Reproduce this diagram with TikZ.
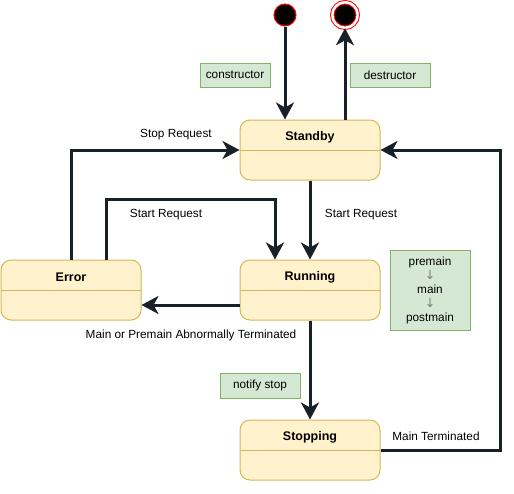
\documentclass[tikz,border=0pt]{standalone}
\usepackage{fontspec}
\setmainfont{Liberation Sans}
\newfontfamily\arrowfont{DejaVu Sans}
\usetikzlibrary{arrows.meta}
\definecolor{statehead}{HTML}{FFF2CC}
\definecolor{statebody}{HTML}{FFFFC0}
\definecolor{stateline}{HTML}{D6B656}
\definecolor{notefill}{HTML}{D5E8D4}
\definecolor{noteline}{HTML}{82B366}
\definecolor{wire}{HTML}{1A2027}
\begin{document}
\begin{tikzpicture}[x=1pt,y=-1pt,
  state/.style={draw=stateline, fill=statebody, line width=1pt, rounded corners=10pt,
    minimum width=140pt, minimum height=60pt, inner sep=0pt,
    path picture={\fill[statehead] (path picture bounding box.north west) rectangle ([yshift=-30pt]path picture bounding box.east);
      \draw[stateline, line width=1pt] (path picture bounding box.west) -- (path picture bounding box.east);}},
  title/.style={font=\fontsize{12.5pt}{14pt}\selectfont\bfseries, inner sep=0pt},
  note/.style={draw=noteline, fill=notefill, line width=1pt, font=\fontsize{11.8pt}{14pt}\selectfont, inner sep=0pt},
  lbl/.style={font=\fontsize{11.8pt}{14pt}\selectfont, inner sep=0pt},
  wire/.style={draw=wire, line width=3pt, -{Stealth[length=17pt,width=18pt,inset=5pt]}},
  begin/.style={circle, draw=red, fill=black, line width=1pt, minimum size=22pt, inner sep=0pt},
  finish/.style={circle, draw=red, fill=black, line width=1pt, double=white, double distance=2.5pt, minimum size=25.5pt, inner sep=0pt}]
\useasboundingbox (0,0) rectangle (514,493);

\node[begin] (start) at (285,15) {};
\node[finish] (end) at (345,15) {};

\node[state] (standby) at (310,150) {};
\node[title] (standbyTitle) at ([yshift=13pt]standby.center) {Standby};
\node[state] (running) at (310,290) {};
\node[title] (runningTitle) at ([yshift=13pt]running.center) {Running};
\node[state] (error) at (71,290) {};
\node[title] (errorTitle) at ([yshift=13pt]error.center) {Error};
\node[state] (stopping) at (310,450) {};
\node[title] (stoppingTitle) at ([yshift=13pt]stopping.center) {Stopping};

\node[note, minimum width=70pt, minimum height=24pt] (ctor) at (235,75) {constructor};
\node[note, minimum width=80pt, minimum height=24pt] (dtor) at (390,75) {destructor};
\node[note, minimum width=80pt, minimum height=25pt] (notify) at (260,385.5) {notify stop};
\node[note, minimum width=80pt, minimum height=80pt, align=center] (phases) at (430,290)
  {premain\\{\arrowfont\fontsize{12.5pt}{10pt}\selectfont\color{gray}↓}\\main\\{\arrowfont\fontsize{12.5pt}{10pt}\selectfont\color{gray}↓}\\postmain};

% transitions
\draw[wire] (start) -- (start |- standby.north);
\draw[wire] (end |- standby.north) -- (end);
\draw[wire] (error.north) |- (standby.west);
\draw[wire] ([xshift=35pt]error.north) -- ++(0,-60) -| ([xshift=-35pt]running.north);
\draw[wire] (standby) -- (running);
\draw[wire] ([yshift=-15pt]running.west) -- ([yshift=-15pt]error.east);
\draw[wire] (running) -- (stopping);
\draw[wire] (stopping.east) -- ++(120,0) |- (standby.east);

\node[lbl] (stopReq) at (176,135) {Stop Request};
\node[lbl] (startReqA) at (166,215) {Start Request};
\node[lbl] (startReqB) at (361,215) {Start Request};
\node[lbl] (abort) at (191,335) {Main or Premain Abnormally Terminated};
\node[lbl] (mainEnd) at (436,436) {Main Terminated};
\end{tikzpicture}
\end{document}
